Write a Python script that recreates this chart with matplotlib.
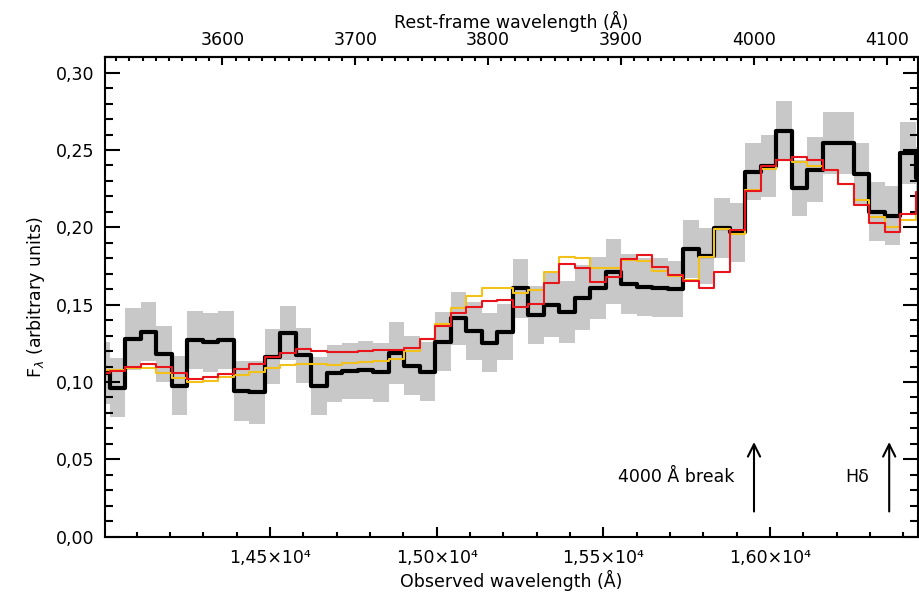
import numpy as np
import matplotlib
matplotlib.use('Agg')
import matplotlib.pyplot as plt
from matplotlib.ticker import MultipleLocator, FuncFormatter

# binned spectrum: observed wavelength of each bin centre (Angstrom)
wave = [13995.4, 14041.9, 14088.4, 14134.9, 14181.4, 14227.9, 14274.4, 14320.9, 14367.4, 14413.9,
        14460.4, 14506.9, 14553.4, 14599.9, 14646.4, 14692.9, 14739.4, 14785.9, 14832.4, 14878.9,
        14925.4, 14971.9, 15018.4, 15064.9, 15111.4, 15157.9, 15204.4, 15250.9, 15297.4, 15343.9,
        15390.4, 15436.9, 15483.4, 15529.9, 15576.4, 15622.9, 15669.4, 15715.9, 15762.4, 15808.9,
        15855.4, 15901.9, 15948.4, 15994.9, 16041.4, 16087.9, 16134.4, 16180.9, 16227.4, 16273.9,
        16320.4, 16366.9, 16413.4, 16459.9]

# observed flux
flux = [0.106, 0.0964, 0.1278, 0.1326, 0.118, 0.0977, 0.1272, 0.1257, 0.1272, 0.0942,
        0.0934, 0.1164, 0.1315, 0.1172, 0.0974, 0.1056, 0.1071, 0.1078, 0.1063, 0.1186,
        0.1106, 0.1067, 0.126, 0.1412, 0.133, 0.1254, 0.1325, 0.1606, 0.1434, 0.1498,
        0.1455, 0.1545, 0.1606, 0.1713, 0.1632, 0.1615, 0.161, 0.160, 0.186, 0.1815,
        0.1994, 0.1968, 0.236, 0.2397, 0.2625, 0.2253, 0.2371, 0.2544, 0.2544, 0.2343,
        0.2101, 0.2076, 0.2479, 0.232]

# 1-sigma error per bin
err = [0.020, 0.019, 0.020, 0.019, 0.018, 0.019, 0.019, 0.019, 0.019, 0.0196,
       0.0204, 0.018, 0.0175, 0.018, 0.019, 0.0184, 0.0183, 0.019, 0.019, 0.020,
       0.019, 0.019, 0.019, 0.017, 0.019, 0.019, 0.018, 0.019, 0.019, 0.021,
       0.020, 0.021, 0.020, 0.021, 0.0195, 0.019, 0.019, 0.018, 0.019, 0.018,
       0.0194, 0.019, 0.0185, 0.020, 0.019, 0.018, 0.021, 0.020, 0.020, 0.020,
       0.019, 0.019, 0.020, 0.020]

# best-fit model (red)
model_red = [0.106, 0.1071, 0.110, 0.1115, 0.110, 0.106, 0.102, 0.1035, 0.105, 0.1086,
             0.1115, 0.1164, 0.1186, 0.1212, 0.120, 0.1196, 0.1196, 0.1203, 0.121, 0.1205,
             0.1222, 0.128, 0.1364, 0.1444, 0.1483, 0.1524, 0.153, 0.1487, 0.1505, 0.1642,
             0.1761, 0.1735, 0.1649, 0.1677, 0.1794, 0.1821, 0.1746, 0.1692, 0.1653, 0.1606,
             0.1713, 0.1983, 0.2237, 0.2397, 0.2436, 0.2453, 0.2436, 0.2371, 0.2278, 0.2145,
             0.203, 0.1972, 0.2087, 0.223]

# alternative model (yellow)
model_yel = [0.108, 0.1075, 0.109, 0.1093, 0.1057, 0.1024, 0.1002, 0.1005, 0.1035, 0.1045,
             0.1067, 0.1093, 0.111, 0.1117, 0.1115, 0.111, 0.112, 0.1128, 0.1133, 0.1147,
             0.1203, 0.128, 0.1373, 0.1477, 0.1556, 0.1606, 0.161, 0.1573, 0.1595, 0.171,
             0.181, 0.180, 0.1735, 0.1735, 0.179, 0.1783, 0.1718, 0.1688, 0.166, 0.181,
             0.199, 0.196, 0.224, 0.238, 0.2436, 0.2425, 0.2395, 0.2371, 0.228, 0.218,
             0.207, 0.2004, 0.2048, 0.222]

zred = 2.988
lines_rest = [4000.0, 4101.7]
line_names = ['4000 Å break', 'Hδ']

wave = np.array(wave)
flux = np.array(flux)
err = np.array(err)

fig = plt.figure(figsize=(9.2, 6), dpi=100)
ax = fig.add_axes([105/920, 63.3/600, 813/920, 479.5/600])

ax.fill_between(wave, flux - err, flux + err, step='mid', color='#c8c8c8', lw=0)
ax.step(wave, flux, where='mid', color='black', lw=3.0)
ax.step(wave, model_yel, where='mid', color='#f2c21b', lw=1.5)
ax.step(wave, model_red, where='mid', color='#e8161c', lw=1.5)

ax.set_xlim(14005, 16444)
ax.set_ylim(0, 0.31)

# arrows marking the spectral features
for lr, name in zip(lines_rest, line_names):
    xo = lr * (1 + zred)
    ax.annotate('', xy=(xo, 0.063), xytext=(xo, 0.0145),
                arrowprops=dict(arrowstyle='->', color='black', lw=1.5, mutation_scale=22))
    ax.text(xo - 60, 0.0385, name, ha='right', va='center', fontsize=12.5)

fs = 12.5
ax.xaxis.set_major_locator(MultipleLocator(500))
ax.xaxis.set_minor_locator(MultipleLocator(100))
ax.yaxis.set_major_locator(MultipleLocator(0.05))
ax.yaxis.set_minor_locator(MultipleLocator(0.01))
ax.xaxis.set_major_formatter(FuncFormatter(
    lambda v, p: ('%.2f' % (v / 1e4)).replace('.', ',') + '×10⁴'))
ax.yaxis.set_major_formatter(FuncFormatter(lambda v, p: ('%.2f' % v).replace('.', ',')))

ax.tick_params(axis='both', which='both', direction='in', top=False, right=True,
               width=1.5, labelsize=fs)
ax.tick_params(axis='x', which='major', length=7, pad=9)
ax.tick_params(axis='x', which='minor', length=3.5)
ax.tick_params(axis='y', which='major', length=11, pad=8)
ax.tick_params(axis='y', which='minor', length=5.5)
for s in ax.spines.values():
    s.set_linewidth(1.5)

sec = ax.secondary_xaxis('top', functions=(lambda x: x / (1 + zred), lambda x: x * (1 + zred)))
sec.xaxis.set_major_locator(MultipleLocator(100))
sec.xaxis.set_minor_locator(MultipleLocator(10))
sec.tick_params(axis='x', which='both', direction='in', width=1.5, labelsize=fs)
sec.tick_params(axis='x', which='major', length=6, pad=6)
sec.tick_params(axis='x', which='minor', length=3)
sec.spines['top'].set_linewidth(1.5)
sec.set_xlabel('Rest-frame wavelength (Å)', fontsize=fs, labelpad=2)

ax.set_xlabel('Observed wavelength (Å)', fontsize=fs, labelpad=2)
ax.set_ylabel(r'F$_{\lambda}$ (arbitrary units)', fontsize=fs, labelpad=6)

fig.savefig('out.png', dpi=100)
